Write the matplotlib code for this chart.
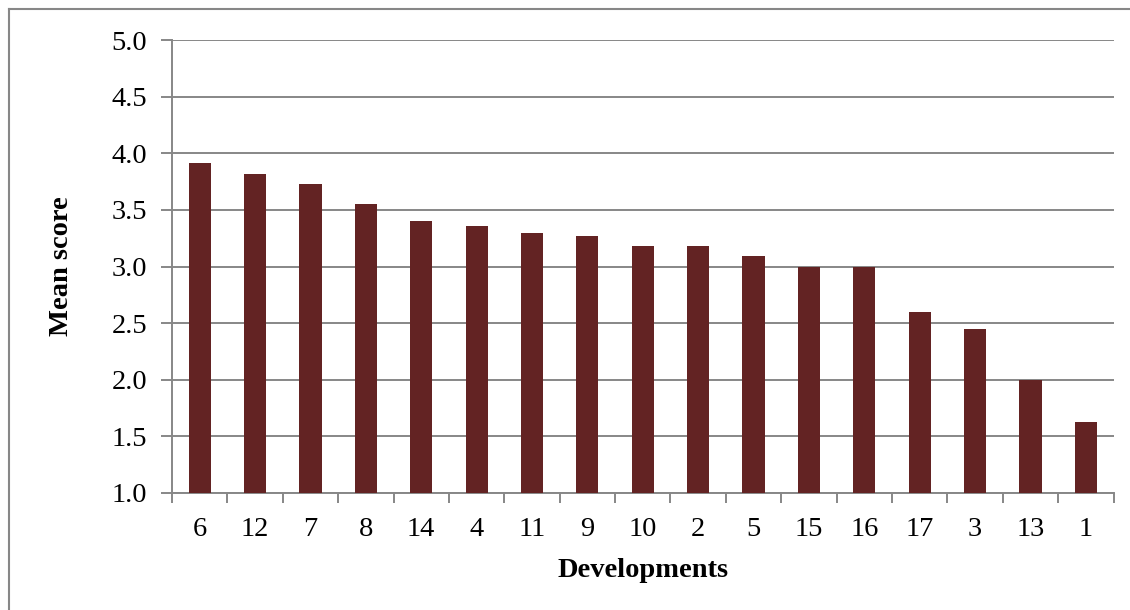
import matplotlib.pyplot as plt
from matplotlib.lines import Line2D

developments = ["6", "12", "7", "8", "14", "4", "11", "9", "10", "2", "5", "15", "16", "17", "3", "13", "1"]
mean_scores = [3.91, 3.82, 3.73, 3.55, 3.40, 3.36, 3.30, 3.27, 3.18, 3.18, 3.09, 3.00, 3.00, 2.60, 2.45, 2.00, 1.63]
y_ticks = [1.0, 1.5, 2.0, 2.5, 3.0, 3.5, 4.0, 4.5, 5.0]

plt.rcParams["font.family"] = ["Liberation Serif", "DejaVu Serif"]

fig = plt.figure(figsize=(11.3, 6.1), dpi=100)
ax = fig.add_axes([172 / 1130, 1 - 493 / 610, (1113.5 - 172) / 1130, (493 - 40) / 610])

grey = "#878787"
pos = list(range(len(developments)))
ax.bar(pos, [v - 1.0 for v in mean_scores], bottom=1.0, width=0.4, color="#632323", zorder=3)

ax.set_xlim(-0.5, len(developments) - 0.5)
ax.set_ylim(1.0, 5.0)
ax.set_yticks(y_ticks)
ax.set_yticklabels(["{:.1f}".format(t) for t in y_ticks])
ax.set_xticks(pos)
ax.set_xticklabels(developments)
ax.set_xticks([p - 0.5 for p in pos] + [len(pos) - 0.5], minor=True)

ax.yaxis.grid(True, color=grey, linewidth=1.4, zorder=0)
ax.tick_params(axis="y", length=8, width=1.4, color=grey, labelsize=20.5, pad=10)
ax.tick_params(axis="x", which="major", length=0, labelsize=20.5, pad=17)
ax.tick_params(axis="x", which="minor", length=7, width=1.4, color=grey)

for side in ["top", "right"]:
    ax.spines[side].set_visible(False)
for side in ["left", "bottom"]:
    ax.spines[side].set_color(grey)
    ax.spines[side].set_linewidth(1.4)

ax.set_xlabel("Developments", fontsize=20.5, fontweight="bold", labelpad=12)
ax.set_ylabel("Mean score", fontsize=20.5, fontweight="bold", labelpad=27)

# frame around the chart area
fig.add_artist(Line2D([9 / 1130, 9 / 1130], [0, 1 - 9 / 610], color=grey, linewidth=1.5))
fig.add_artist(Line2D([9 / 1130, 1], [1 - 9 / 610, 1 - 9 / 610], color=grey, linewidth=1.5))

fig.savefig("out.png", dpi=100, facecolor="white")
